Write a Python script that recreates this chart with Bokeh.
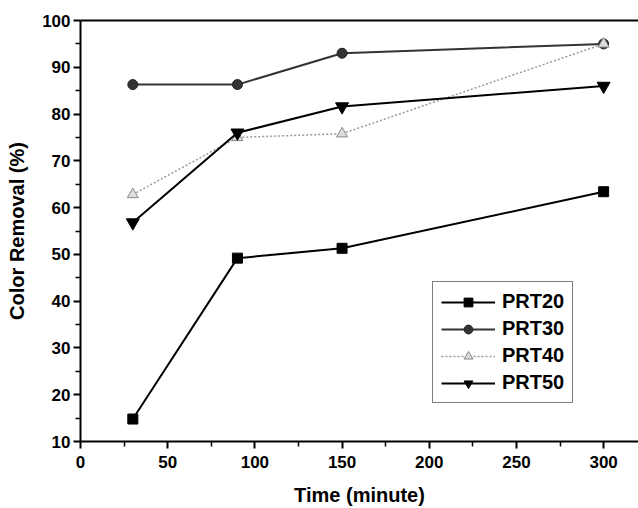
from bokeh.plotting import figure
from bokeh.models import FixedTicker, LinearAxis, Range1d, Legend, LegendItem
from bokeh.embed import file_html
from bokeh.resources import INLINE

time = [30, 90, 150, 300]
prt20 = [14.8, 49.2, 51.3, 63.4]
prt30 = [86.3, 86.3, 93.0, 95.0]
prt40 = [62.8, 75.0, 75.8, 95.0]
prt50 = [56.8, 76.0, 81.6, 86.0]

x_ticks = [0, 50, 100, 150, 200, 250, 300]
x_minor = [25, 75, 125, 175, 225, 275, 325]
y_ticks = [10, 20, 30, 40, 50, 60, 70, 80, 90, 100]
y_minor = [15, 25, 35, 45, 55, 65, 75, 85, 95]

FONT = "Liberation Sans"

p = figure(width=638, height=508, output_backend="svg", toolbar_location=None,
           x_range=Range1d(0, 320), y_range=Range1d(10, 100),
           min_border_left=80, min_border_right=0, min_border_top=20, min_border_bottom=66)
p.xgrid.visible = False
p.ygrid.visible = False
p.outline_line_color = None
p.background_fill_color = "white"

for ax, ticks, minor in ((p.xaxis[0], x_ticks, x_minor), (p.yaxis[0], y_ticks, y_minor)):
    ax.ticker = FixedTicker(ticks=ticks, minor_ticks=minor)
    ax.axis_line_width = 2
    ax.axis_line_color = "black"
    ax.major_tick_in = 0
    ax.major_tick_out = 7
    ax.minor_tick_in = 0
    ax.minor_tick_out = 5
    ax.major_tick_line_width = 2
    ax.minor_tick_line_width = 1.5
    ax.major_label_text_font = FONT
    ax.major_label_text_font_style = "bold"
    ax.major_label_text_font_size = "17px"
    ax.major_label_text_color = "black"
    ax.axis_label_text_font = FONT
    ax.axis_label_text_font_style = "bold"
    ax.axis_label_text_font_size = "20px"
    ax.axis_label_text_color = "black"

p.xaxis.axis_label = "Time (minute)"
p.yaxis.axis_label = "Color Removal (%)"
p.xaxis.major_label_standoff = 7
p.xaxis.axis_label_standoff = 13
p.yaxis.major_label_standoff = 3
p.yaxis.axis_label_standoff = 11

top = LinearAxis(ticker=FixedTicker(ticks=[]), axis_line_width=2, axis_line_color="black",
                 major_label_text_font_size="0px", major_tick_out=0, minor_tick_out=0)
p.add_layout(top, "above")

l20 = p.line(time, prt20, line_color="black", line_width=2)
m20 = p.scatter(time, prt20, marker="square", size=10, fill_color="black", line_color="black")
l30 = p.line(time, prt30, line_color="#333333", line_width=2)
m30 = p.scatter(time, prt30, marker="circle", size=10, fill_color="#333333", line_color="#222222")
l40 = p.line(time, prt40, line_color="#9a9a9a", line_width=1.5, line_dash="2 2")
m40 = p.scatter(time, prt40, marker="triangle", size=11, fill_color="#dddddd", line_color="#888888")
l50 = p.line(time, prt50, line_color="black", line_width=2)
m50 = p.scatter(time, prt50, marker="inverted_triangle", size=13, fill_color="black", line_color="black")

legend = Legend(items=[
    LegendItem(label="PRT20", renderers=[l20, m20]),
    LegendItem(label="PRT30", renderers=[l30, m30]),
    LegendItem(label="PRT40", renderers=[l40, m40]),
    LegendItem(label="PRT50", renderers=[l50, m50]),
], location=(352, 38))
legend.label_text_font = FONT
legend.label_text_font_style = "bold"
legend.label_text_font_size = "20px"
legend.label_text_color = "black"
legend.border_line_color = "black"
legend.border_line_width = 1.5
legend.glyph_width = 54
legend.glyph_height = 22
legend.label_height = 22
legend.spacing = 4
legend.padding = 8
legend.margin = 0
legend.label_standoff = 7
legend.background_fill_alpha = 1
p.add_layout(legend, "center")

open("out.html", "w").write(file_html(p, INLINE))
